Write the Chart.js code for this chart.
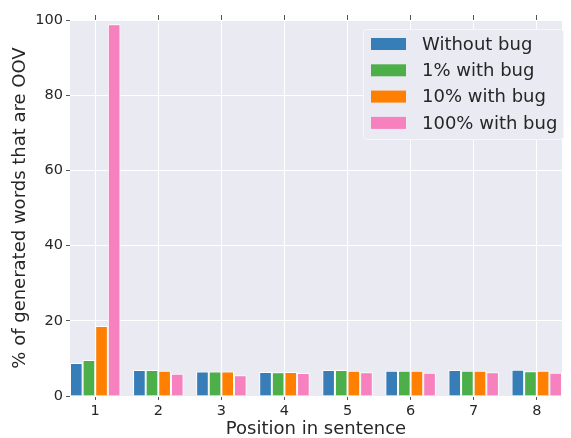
<!DOCTYPE html>
<html>
<head>
<meta charset="utf-8">
<script src="https://cdn.jsdelivr.net/npm/chart.js@4/dist/chart.umd.min.js"></script>
<style>
  html, body { margin: 0; padding: 0; background: #fff; }
  #wrap { width: 571px; height: 438px; position: relative; }
</style>
</head>
<body>
<div id="wrap"><canvas id="chart"></canvas></div>
<script>
// ---- Data ----
const positions = [1, 2, 3, 4, 5, 6, 7, 8];
const seriesLabels = ["Without bug", "1% with bug", "10% with bug", "100% with bug"];
const withoutBug = [8.8, 6.9, 6.5, 6.4, 6.9, 6.7, 6.9, 7.0];
const bug1 = [9.6, 6.9, 6.5, 6.3, 6.9, 6.7, 6.7, 6.6];
const bug10 = [18.6, 6.7, 6.5, 6.4, 6.7, 6.7, 6.7, 6.7];
const bug100 = [98.9, 5.9, 5.5, 6.1, 6.3, 6.2, 6.3, 6.2];
const yTicks = [0, 20, 40, 60, 80, 100];

const colors = ["#377eb8", "#4daf4a", "#ff7f00", "#f781bf"];
const textColor = "#262626";

Chart.defaults.font.family = "'DejaVu Sans', sans-serif";
Chart.defaults.color = textColor;

// grey plot background (seaborn darkgrid look)
const plotBackground = {
  id: "plotBackground",
  beforeDraw(chart) {
    const { ctx, chartArea: a } = chart;
    ctx.save();
    ctx.fillStyle = "#eaeaf2";
    ctx.fillRect(a.left, a.top, a.right - a.left, a.bottom - a.top);
    ctx.restore();
  }
};

// legend drawn inside the plot, upper right
const insideLegend = {
  id: "insideLegend",
  afterDatasetsDraw(chart) {
    const { ctx, chartArea: a } = chart;
    const w = 200, h = 110;
    const x0 = a.right - w + 1, y0 = a.top + 9;
    ctx.save();
    ctx.fillStyle = "#eaeaf2";
    ctx.strokeStyle = "#f7f7fa";
    ctx.lineWidth = 1;
    ctx.beginPath();
    ctx.roundRect(x0 + 0.5, y0 + 0.5, w, h, 3);
    ctx.fill();
    ctx.stroke();
    ctx.font = "18px 'DejaVu Sans', sans-serif";
    ctx.textBaseline = "middle";
    chart.data.datasets.forEach((ds, i) => {
      const cy = y0 + 15 + i * 26.3;
      ctx.fillStyle = ds.backgroundColor;
      ctx.fillRect(x0 + 8, cy - 6, 35, 12);
      ctx.fillStyle = textColor;
      ctx.fillText(ds.label, x0 + 59, cy + 1);
    });
    ctx.restore();
  }
};

const seriesData = [withoutBug, bug1, bug10, bug100];
const datasets = seriesData.map((vals, i) => ({
  label: seriesLabels[i],
  data: vals.map((v, j) => ({ x: positions[j], y: v })),
  backgroundColor: colors[i],
  borderColor: "#ffffff",
  borderWidth: 1,
  categoryPercentage: 0.8,
  barPercentage: 1.0
}));

const setPositionTicks = scale => { scale.ticks = positions.map(v => ({ value: v })); };

new Chart(document.getElementById("chart"), {
  type: "bar",
  data: { datasets },
  plugins: [plotBackground, insideLegend],
  options: {
    responsive: true,
    maintainAspectRatio: false,
    animation: false,
    layout: { padding: { left: 0, right: 9, top: 0, bottom: 0 } },
    plugins: { legend: { display: false }, tooltip: { enabled: false } },
    scales: {
      x: {
        type: "linear",
        min: 0.6,
        max: 8.4,
        offset: false,
        afterBuildTicks: setPositionTicks,
        afterFit: s => { s.height = 42; },
        border: { display: false },
        grid: { offset: false, color: "#ffffff", lineWidth: 1, tickColor: "#555", tickLength: 4 },
        ticks: { font: { size: 14.5 }, padding: 3 },
        title: { display: true, text: "Position in sentence", font: { size: 18, lineHeight: 1 }, padding: { top: 0, bottom: 0 } }
      },
      x2: {
        type: "linear",
        position: "top",
        min: 0.6,
        max: 8.4,
        offset: false,
        afterBuildTicks: setPositionTicks,
        afterFit: s => { s.height = 20; },
        border: { display: false },
        grid: { offset: false, drawOnChartArea: false, tickColor: "#555", tickLength: 5 },
        ticks: { display: false }
      },
      y: {
        min: 0,
        max: 100,
        afterBuildTicks: s => { s.ticks = yTicks.map(v => ({ value: v })); },
        afterFit: s => { s.width = 70; },
        border: { display: false },
        grid: { color: "#ffffff", lineWidth: 1, tickColor: "#555", tickLength: 4 },
        ticks: { font: { size: 14.5 }, padding: 3 },
        title: { display: true, text: "% of generated words that are OOV", font: { size: 18, lineHeight: 1 }, padding: { top: 11, bottom: 0 } }
      }
    }
  }
});
</script>
</body>
</html>
